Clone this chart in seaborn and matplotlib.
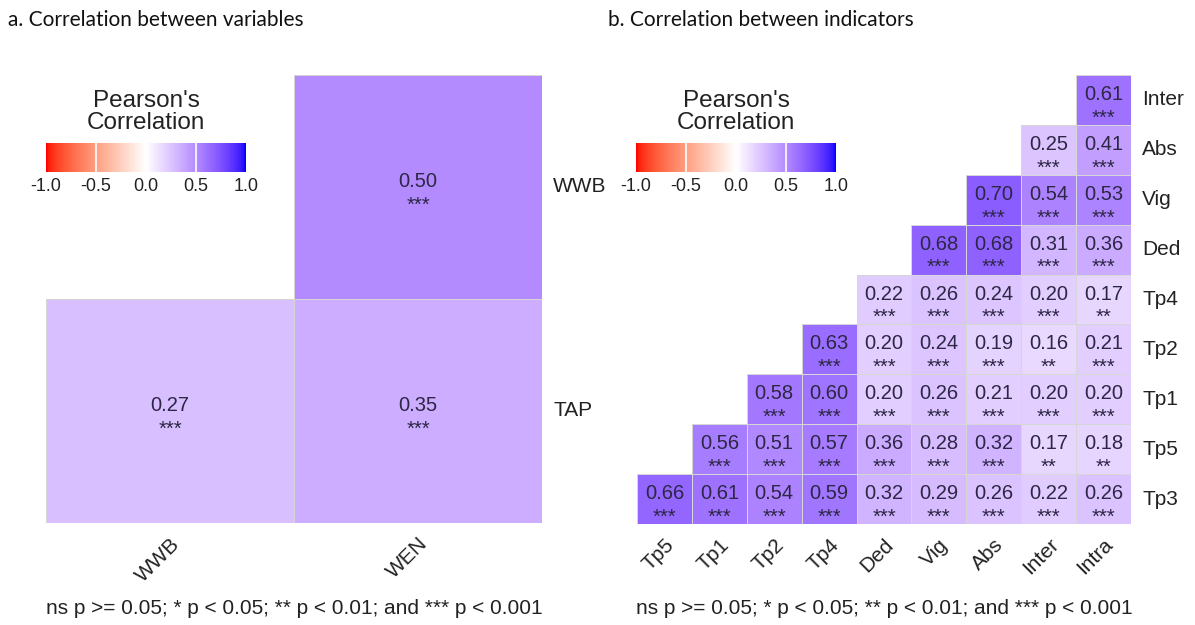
import numpy as np
import pandas as pd
import matplotlib
matplotlib.use('Agg')
import matplotlib.pyplot as plt
import seaborn as sns
from matplotlib.colors import ListedColormap, Normalize

nan = np.nan

# panel a: correlation between variables
var_cols = ['WWB', 'WEN']
var_rows = ['WWB', 'TAP']
var_r = [[nan, 0.50],
         [0.27, 0.35]]
var_sig = [['', '***'],
           ['***', '***']]

# panel b: correlation between indicators
ind_cols = ['Tp5', 'Tp1', 'Tp2', 'Tp4', 'Ded', 'Vig', 'Abs', 'Inter', 'Intra']
ind_rows = ['Inter', 'Abs', 'Vig', 'Ded', 'Tp4', 'Tp2', 'Tp1', 'Tp5', 'Tp3']
ind_r = [
    [nan, nan, nan, nan, nan, nan, nan, nan, 0.61],
    [nan, nan, nan, nan, nan, nan, nan, 0.25, 0.41],
    [nan, nan, nan, nan, nan, nan, 0.70, 0.54, 0.53],
    [nan, nan, nan, nan, nan, 0.68, 0.68, 0.31, 0.36],
    [nan, nan, nan, nan, 0.22, 0.26, 0.24, 0.20, 0.17],
    [nan, nan, nan, 0.63, 0.20, 0.24, 0.19, 0.16, 0.21],
    [nan, nan, 0.58, 0.60, 0.20, 0.26, 0.21, 0.20, 0.20],
    [nan, 0.56, 0.51, 0.57, 0.36, 0.28, 0.32, 0.17, 0.18],
    [0.66, 0.61, 0.54, 0.59, 0.32, 0.29, 0.26, 0.22, 0.26],
]
ind_sig = [
    ['', '', '', '', '', '', '', '', '***'],
    ['', '', '', '', '', '', '', '***', '***'],
    ['', '', '', '', '', '', '***', '***', '***'],
    ['', '', '', '', '', '***', '***', '***', '***'],
    ['', '', '', '', '***', '***', '***', '***', '**'],
    ['', '', '', '***', '***', '***', '***', '**', '***'],
    ['', '', '***', '***', '***', '***', '***', '***', '***'],
    ['', '***', '***', '***', '***', '***', '***', '**', '**'],
    ['***', '***', '***', '***', '***', '***', '***', '***', '***'],
]

legend_ticks = [-1.0, -0.5, 0.0, 0.5, 1.0]
footnote = 'ns p >= 0.05; * p < 0.05; ** p < 0.01; and *** p < 0.001'


# red - white - blue gradient interpolated in CIELAB (like ggplot's gradient2)
def to_lab(rgb):
    c = np.asarray(rgb, float)
    c = np.where(c > 0.04045, ((c + 0.055) / 1.055) ** 2.4, c / 12.92)
    m = np.array([[0.4124, 0.3576, 0.1805], [0.2126, 0.7152, 0.0722], [0.0193, 0.1192, 0.9505]])
    xyz = m @ c / np.array([0.95047, 1.0, 1.08883])
    f = np.where(xyz > 0.008856, np.cbrt(xyz), 7.787 * xyz + 16 / 116)
    return np.array([116 * f[1] - 16, 500 * (f[0] - f[1]), 200 * (f[1] - f[2])])


def from_lab(lab):
    L, a, b = lab
    fy = (L + 16) / 116
    f = np.array([fy + a / 500, fy, fy - b / 200])
    xyz = np.where(f > 0.2069, f ** 3, (f - 16 / 116) / 7.787) * np.array([0.95047, 1.0, 1.08883])
    minv = np.array([[3.2406, -1.5372, -0.4986], [-0.9689, 1.8758, 0.0415], [0.0557, -0.2040, 1.0570]])
    c = np.clip(minv @ xyz, 0, 1)
    c = np.where(c > 0.0031308, 1.055 * c ** (1 / 2.4) - 0.055, 12.92 * c)
    return np.clip(c, 0, 1)


lo, mid, hi = to_lab((1, 0, 0)), to_lab((1, 1, 1)), to_lab((0, 0, 1))
cols = []
for t in np.linspace(-1, 1, 257):
    end = hi if t >= 0 else lo
    cols.append(from_lab(mid + (end - mid) * abs(t)))
cmap = ListedColormap(cols)

sns.set_style('white')
plt.rcParams['font.family'] = ['Liberation Sans', 'DejaVu Sans']

W, H = 1195, 625
fig = plt.figure(figsize=(W / 100, H / 100), dpi=100)


def box(x0, y0, x1, y1):
    return [x0 / W, 1 - y1 / H, (x1 - x0) / W, (y1 - y0) / H]


def draw_panel(ax, cax, r, sig, rows, cols_):
    df = pd.DataFrame(r, index=rows, columns=cols_)
    sns.heatmap(df, ax=ax, cmap=cmap, vmin=-1, vmax=1, cbar=False,
                linewidths=0.6, linecolor='#d4d4d4')
    # no outline around the empty (masked) half
    mesh = ax.collections[0]
    empty = np.isnan(df.to_numpy()).ravel()
    ec = np.tile([0.84, 0.84, 0.84, 1.0], (empty.size, 1))
    ec[empty] = [1, 1, 1, 0]
    mesh.set_edgecolor(ec)
    for s in ax.spines.values():
        s.set_visible(False)

    for i in range(len(rows)):
        for j in range(len(cols_)):
            v = r[i][j]
            if np.isnan(v):
                continue
            ax.annotate(f'{v:.2f}', xy=(j + 0.5, i + 0.5), xytext=(0, 0),
                        textcoords='offset points', ha='center', va='baseline',
                        fontsize=14.5, color='#2d2645')
            ax.annotate(sig[i][j], xy=(j + 0.5, i + 0.5), xytext=(0, -17),
                        textcoords='offset points', ha='center', va='baseline',
                        fontsize=14.5, color='#2d2645')
    ax.yaxis.tick_right()
    ax.tick_params(axis='both', length=0, labelsize=15, colors='#222222')
    ax.tick_params(axis='x', pad=8)
    ax.tick_params(axis='y', pad=8)
    plt.setp(ax.get_xticklabels(), rotation=45, ha='right', va='top',
             rotation_mode='anchor')
    plt.setp(ax.get_yticklabels(), rotation=0, va='center', ha='left')
    ax.set_xlabel('')
    ax.set_ylabel('')

    sm = plt.cm.ScalarMappable(norm=Normalize(-1, 1), cmap=cmap)
    cb = fig.colorbar(sm, cax=cax, orientation='horizontal')
    cb.set_ticks(legend_ticks)
    cb.set_ticklabels([f'{t:.1f}' for t in legend_ticks])
    cb.outline.set_visible(False)
    cax.tick_params(length=0, labelsize=13, pad=4, colors='#222222')
    for t in legend_ticks[1:-1]:
        cax.axvline(t, color='white', lw=1.2)
    cax.set_title("Pearson's\nCorrelation", fontsize=17.5, color='#222222',
                  linespacing=1.0, pad=10)


ax_a = fig.add_axes(box(46, 75, 542, 523))
cax_a = fig.add_axes(box(46, 143, 246, 172))
draw_panel(ax_a, cax_a, var_r, var_sig, var_rows, var_cols)

ax_b = fig.add_axes(box(637, 75, 1131, 524))
cax_b = fig.add_axes(box(636, 143, 836, 172))
draw_panel(ax_b, cax_b, ind_r, ind_sig, ind_rows, ind_cols)

fig.text(8 / W, 1 - 20 / H, 'a. Correlation between variables', ha='left', va='center',
         fontsize=15, family=['Lato', 'DejaVu Sans'], color='#111111')
fig.text(608 / W, 1 - 20 / H, 'b. Correlation between indicators', ha='left', va='center',
         fontsize=15, family=['Lato', 'DejaVu Sans'], color='#111111')

fig.text(294 / W, 1 - 608 / H, footnote, ha='center', va='center', fontsize=15, color='#222222')
fig.text(884 / W, 1 - 608 / H, footnote, ha='center', va='center', fontsize=15, color='#222222')

fig.savefig('out.png', dpi=100)
